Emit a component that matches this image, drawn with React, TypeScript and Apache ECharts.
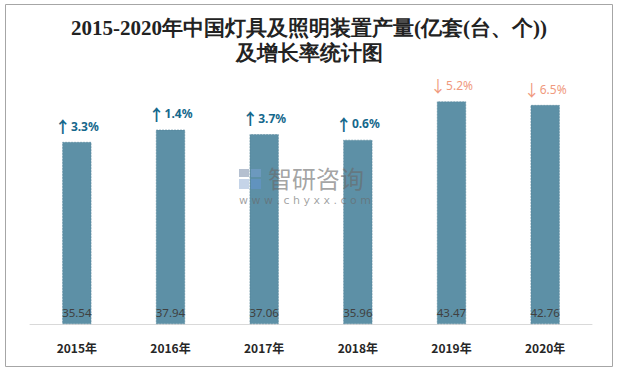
import React, { useEffect, useRef } from "react";
import * as echarts from "echarts";

const categories = ["2015年", "2016年", "2017年", "2018年", "2019年", "2020年"];
const values = [35.54, 37.94, 37.06, 35.96, 43.47, 42.76];
const growthArrows = ["↑", "↑", "↑", "↑", "↓", "↓"];
const growthText = ["3.3%", "1.4%", "3.7%", "0.6%", "5.2%", "6.5%"];
const growthUp = [true, true, true, true, false, false];
const titleLines = ["2015-2020年中国灯具及照明装置产量(亿套(台、个))", "及增长率统计图"];

export default function App() {
  const ref = useRef<HTMLDivElement>(null);
  useEffect(() => {
    document.body.style.margin = "0";
    const chart = echarts.init(ref.current!, null, { renderer: "svg" });
    const wm = "rgba(105,105,105,0.62)";
    const upColor = "#15688c";
    const downColor = "#f09a7e";
    chart.setOption({
      animation: false,
      backgroundColor: "#ffffff",
      title: {
        text: titleLines.join("\n"),
        left: "center",
        top: 10,
        textStyle: {
          fontFamily: "'Liberation Serif', 'DejaVu Serif', serif",
          fontSize: 21,
          fontWeight: "bold",
          color: "#222222",
          lineHeight: 25,
        },
      },
      grid: { left: 30, right: 26, top: 68, bottom: 48 },
      xAxis: {
        type: "category",
        data: categories,
        axisLine: { lineStyle: { color: "#d9d9d9", width: 1 } },
        axisTick: { show: false },
        axisLabel: {
          margin: 17,
          fontSize: 12,
          fontWeight: "bold",
          color: "#262626",
          fontFamily: "'Noto Sans CJK SC', sans-serif",
        },
      },
      yAxis: {
        type: "value",
        min: 0,
        max: 50,
        show: false,
        splitLine: { show: false },
      },
      series: [
        {
          type: "bar",
          data: values,
          barWidth: 29,
          itemStyle: { color: "#5d90a6", borderColor: "#4f7f95", borderWidth: 0.5, borderType: "dashed" },
          label: {
            show: true,
            position: "insideBottom",
            distance: 6,
            fontSize: 11.5,
            color: "#404040",
            fontFamily: "'Noto Sans', sans-serif",
            formatter: (p: any) => p.value.toFixed(2),
          },
        },
        {
          type: "bar",
          barWidth: 29,
          barGap: "-100%",
          itemStyle: { color: "rgba(0,0,0,0)" },
          label: {
            show: true,
            position: "top",
            distance: 8,
            formatter: (p: any) => `{a|${growthArrows[p.dataIndex]}}{b|${growthText[p.dataIndex]}}`,
          },
          data: values.map((v, i) => {
            const c = growthUp[i] ? upColor : downColor;
            const w = growthUp[i] ? "bold" : "normal";
            return {
              value: v,
              label: {
                rich: {
                  a: { fontSize: 16, color: c, fontFamily: "'Noto Sans CJK SC', sans-serif", fontWeight: w },
                  b: { fontSize: 12, color: c, fontFamily: "'Noto Sans', sans-serif", fontWeight: w },
                },
              },
            };
          }),
        },
      ],
      graphic: [
        {
          type: "rect",
          shape: { x: 5.5, y: 4.5, width: 607, height: 362 },
          style: { fill: "none", stroke: "#a6a6a6", lineWidth: 1 },
          silent: true,
          z: 100,
        },
        { type: "rect", z: 100, shape: { x: 239, y: 169, width: 10, height: 8 }, style: { fill: "rgba(120,140,170,0.55)" } },
        { type: "rect", z: 100, shape: { x: 251, y: 169, width: 10, height: 8 }, style: { fill: "rgba(120,160,210,0.55)" } },
        { type: "rect", z: 100, shape: { x: 239, y: 179, width: 10, height: 10 }, style: { fill: "rgba(140,170,210,0.5)" } },
        { type: "rect", z: 100, shape: { x: 251, y: 179, width: 10, height: 10 }, style: { fill: "rgba(100,150,210,0.55)" } },
        {
          type: "text",
          z: 100,
          x: 268,
          y: 177,
          style: {
            text: "智研咨询",
            fontSize: 24,
            fill: wm,
            fontFamily: "'Noto Sans CJK SC', sans-serif",
            verticalAlign: "middle",
          },
        },
        {
          type: "text",
          z: 100,
          x: 239,
          y: 200,
          style: {
            text: "w w w . c h y x x . c o m",
            fontSize: 11,
            fill: wm,
            fontFamily: "'DejaVu Sans', sans-serif",
            verticalAlign: "middle",
          },
        },
      ],
    });
    return () => chart.dispose();
  }, []);
  return <div ref={ref} style={{ width: 618, height: 372 }} />;
}
